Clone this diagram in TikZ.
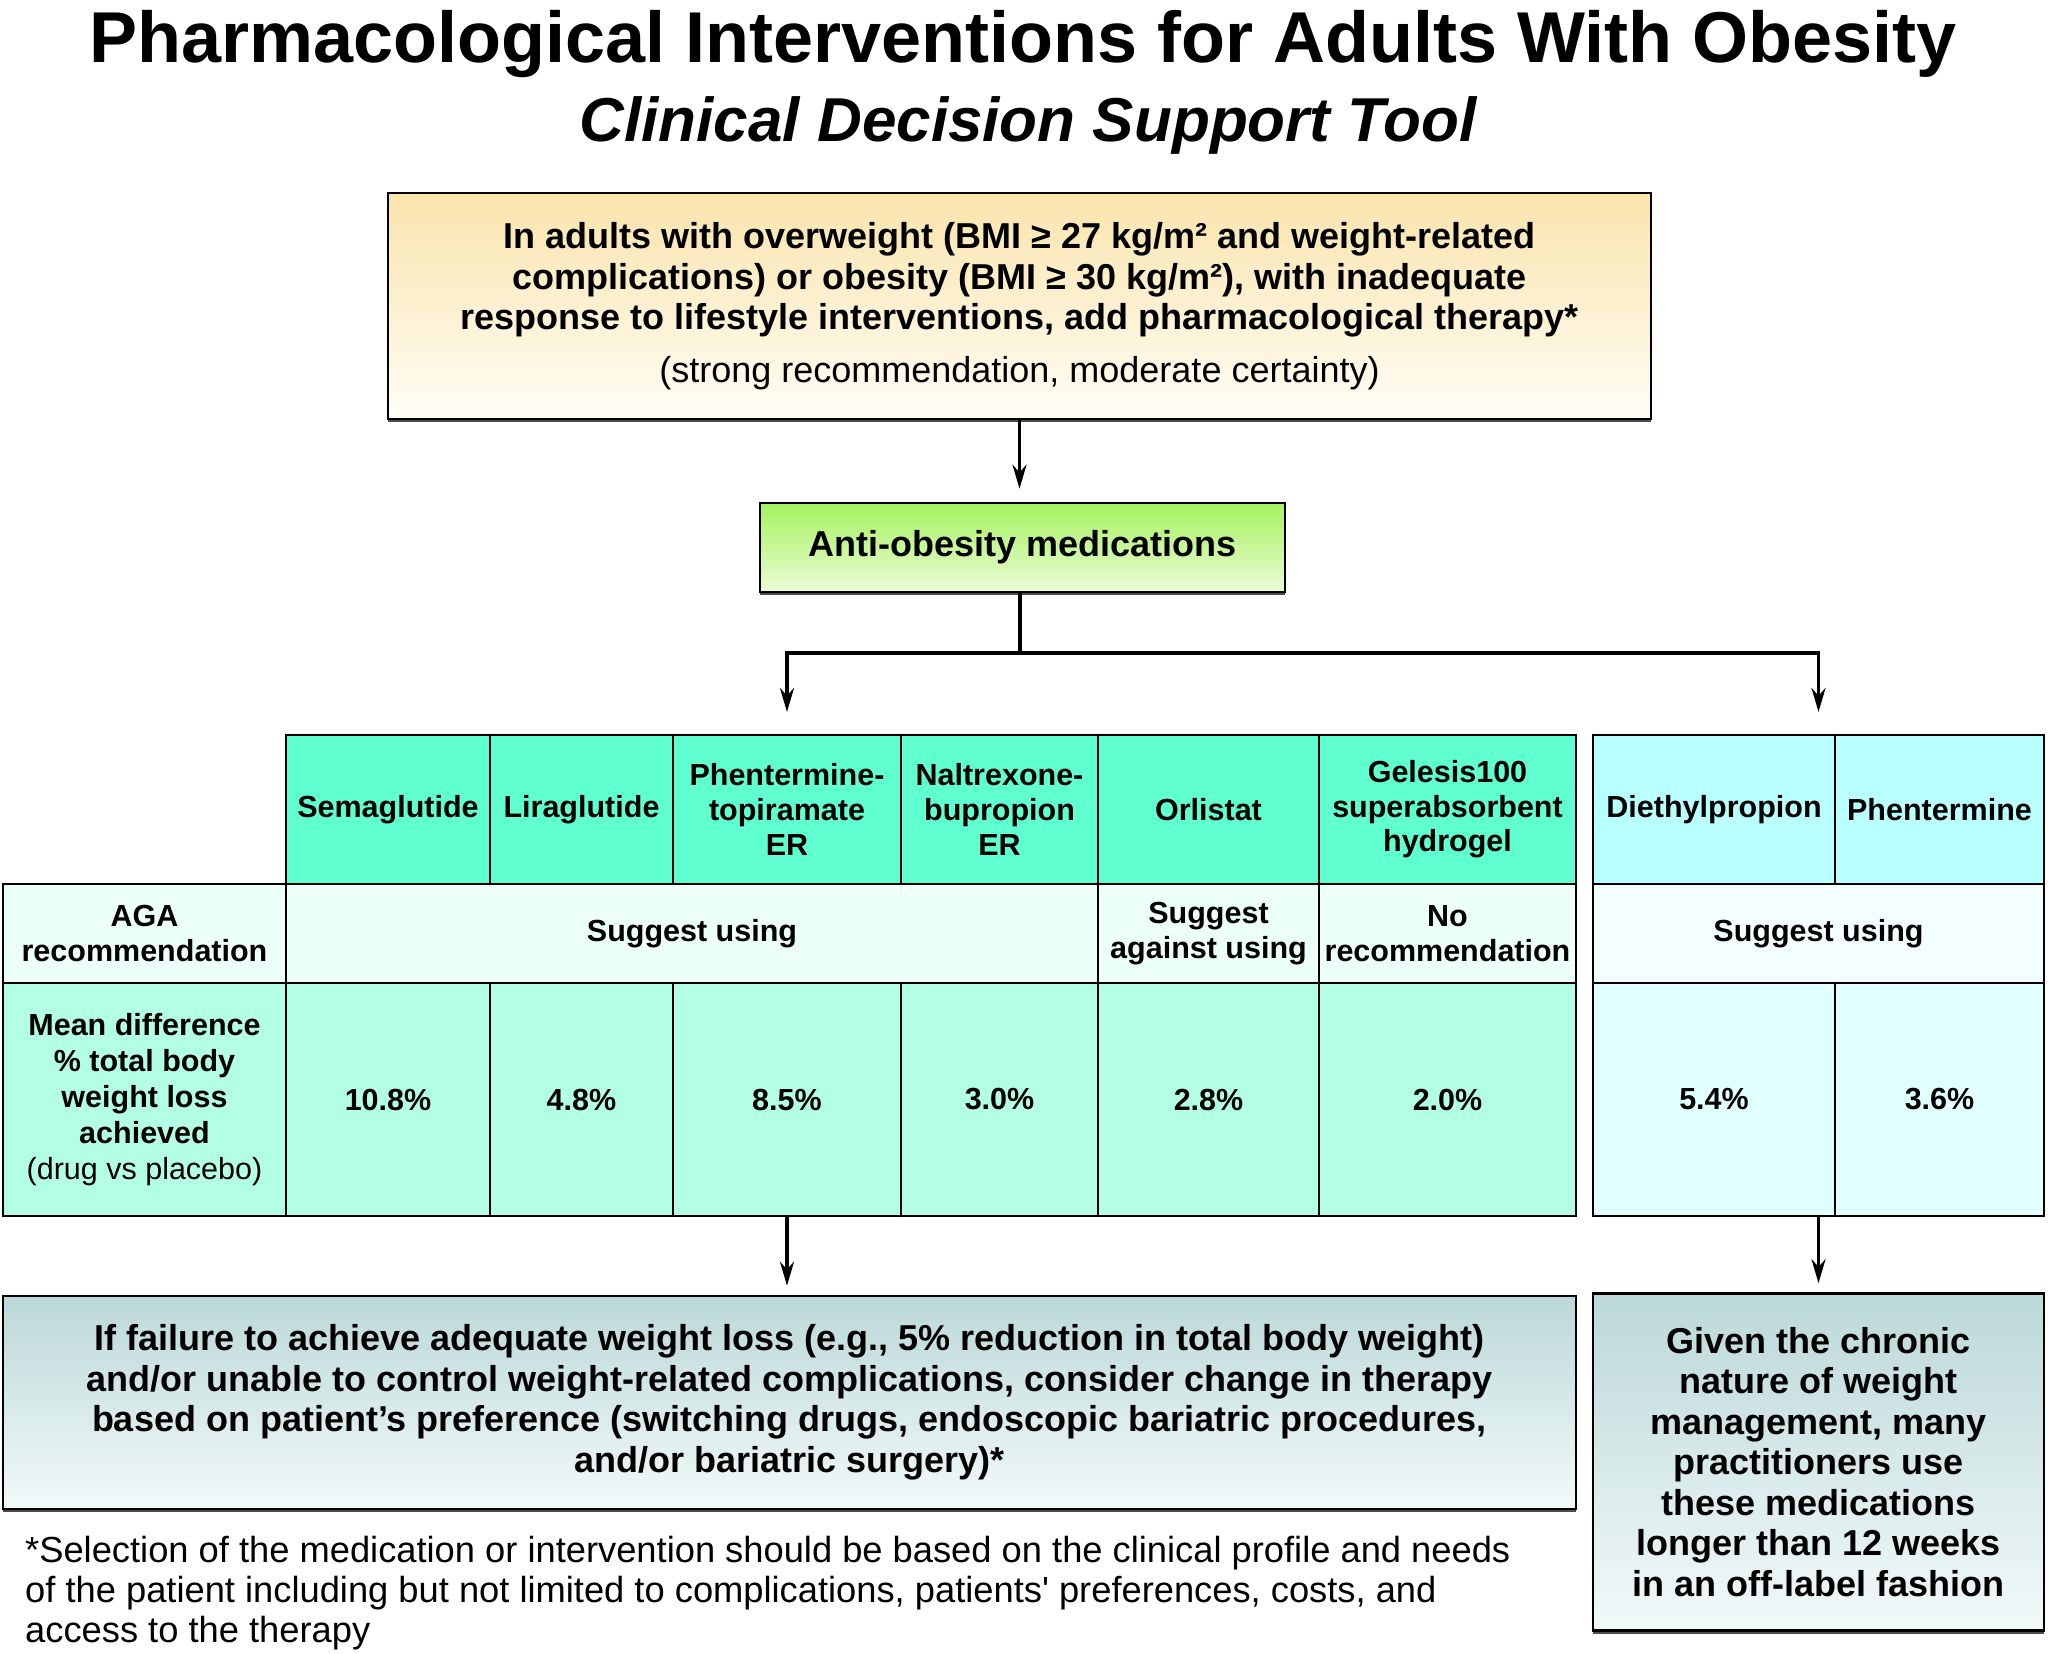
\documentclass[tikz,border=0pt]{standalone}
\usepackage{fontspec}
\setmainfont{Liberation Sans}
\usetikzlibrary{arrows.meta,shadows}

\definecolor{hdrmint}{RGB}{95,255,208}
\definecolor{recmint}{RGB}{236,255,249}
\definecolor{datmint}{RGB}{178,255,230}
\definecolor{hdrcyan}{RGB}{185,255,255}
\definecolor{reccyan}{RGB}{243,255,255}
\definecolor{datcyan}{RGB}{226,255,255}
\definecolor{topamber}{RGB}{250,228,172}
\definecolor{topwhite}{RGB}{255,253,246}
\definecolor{limetop}{RGB}{165,242,95}
\definecolor{limebot}{RGB}{236,252,214}
\definecolor{tealtop}{RGB}{188,216,216}
\definecolor{tealbot}{RGB}{242,249,249}

\newcommand{\titlesize}{\fontsize{72}{80}\selectfont}
\newcommand{\subtitlesize}{\fontsize{62}{70}\selectfont}
\newcommand{\boxsize}{\fontsize{36}{40.5}\selectfont}
\newcommand{\cellsize}{\fontsize{30.5}{34.6}\selectfont}
\newcommand{\notesize}{\fontsize{36.3}{40}\selectfont}

\begin{document}
\begin{tikzpicture}[x=1pt,y=-1pt,
    box/.style={draw=black, line width=2.6pt, inner sep=0pt, align=center, font=\boxsize\bfseries,
      drop shadow={shadow xshift=0pt, shadow yshift=-3pt, fill=black!70, opacity=1}},
    cell/.style={draw=black, line width=2.4pt, inner sep=0pt, outer sep=0pt, align=center, font=\cellsize\bfseries},
    hdr/.style={cell, minimum height=149, fill=hdrmint},
    rec/.style={cell, minimum height=99, fill=recmint},
    dat/.style={cell, minimum height=233, fill=datmint},
    arr/.style={-{Stealth[length=24pt,width=14pt]}, line width=3.6pt},
    link/.style={line width=3.6pt}]
    \useasboundingbox (0,0) rectangle (2048,1654);

    \node[font=\titlesize\bfseries, anchor=base] (title) at (1023,63) {Pharmacological Interventions for Adults With Obesity};
    \node[font=\subtitlesize\bfseries\itshape, anchor=base] (subtitle) at (1028,141) {Clinical Decision Support Tool};

    \node[box, top color=topamber, bottom color=topwhite, minimum width=1263, minimum height=226] (lifestyle) at (1019.5,306)
      {In adults with overweight (BMI ≥ 27 kg/m² and weight-related\\
       complications) or obesity (BMI ≥ 30 kg/m²), with inadequate\\
       response to lifestyle interventions, add pharmacological therapy*\\[12pt]
       \mdseries (strong recommendation, moderate certainty)};
    \node[box, top color=limetop, bottom color=limebot, minimum width=525, minimum height=89] (aom) at (1022.5,547.5) {Anti-obesity medications};
    \coordinate (split) at (1020,653);

    % header row
    \node[hdr, minimum width=204] (sema) at (388,809.5) {Semaglutide};
    \node[hdr, minimum width=183] (lira) at (581.5,809.5) {Liraglutide};
    \node[hdr, minimum width=228] (phen) at (787,809.5) {Phentermine-\\topiramate\\ER};
    \node[hdr, minimum width=197] (nalt) at (999.5,809.5) {Naltrexone-\\bupropion\\ER};
    \node[hdr, minimum width=221] (orli) at (1208.5,809.5) {Orlistat};
    \node[hdr, minimum width=257] (gele) at (1447.5,809.5) {Gelesis100\\superabsorbent\\hydrogel};
    \node[hdr, fill=hdrcyan, minimum width=242] (diet) at (1714,809.5) {Diethylpropion};
    \node[hdr, fill=hdrcyan, minimum width=209] (phtm) at (1939.5,809.5) {Phentermine};

    % recommendation row
    \node[rec, minimum width=283] (aga) at (144.5,933.5) {AGA\\recommendation};
    \node[rec, minimum width=812] (sug) at (692,933.5) {Suggest using};
    \node[rec, minimum width=221] (agst) at (1208.5,933.5) {Suggest\\against using};
    \node[rec, minimum width=257] (norec) at (1447.5,933.5) {No\\recommendation};
    \node[rec, fill=reccyan, minimum width=451] (rsug) at (1818.5,933.5) {Suggest using};

    % mean difference row
    \node[dat, minimum width=283, font=\fontsize{30.5}{36}\selectfont\bfseries] (mean) at (144.5,1099.5)
      {Mean difference\\\% total body\\weight loss\\achieved\\\mdseries (drug vs placebo)};
    \node[dat, minimum width=204] (d1) at (388,1099.5) {10.8\%};
    \node[dat, minimum width=183] (d2) at (581.5,1099.5) {4.8\%};
    \node[dat, minimum width=228] (d3) at (787,1099.5) {8.5\%};
    \node[dat, minimum width=197] (d4) at (999.5,1099.5) {3.0\%};
    \node[dat, minimum width=221] (d5) at (1208.5,1099.5) {2.8\%};
    \node[dat, minimum width=257] (d6) at (1447.5,1099.5) {2.0\%};
    \node[dat, fill=datcyan, minimum width=242] (d7) at (1714,1099.5) {5.4\%};
    \node[dat, fill=datcyan, minimum width=209] (d8) at (1939.5,1099.5) {3.6\%};

    \node[box, top color=tealtop, bottom color=tealbot, minimum width=1573, minimum height=213] (change) at (789.5,1402.5)
      {If failure to achieve adequate weight loss (e.g., 5\% reduction in total body weight)\\
       and/or unable to control weight-related complications, consider change in therapy\\
       based on patient’s preference (switching drugs, endoscopic bariatric procedures,\\
       and/or bariatric surgery)*};
    \node[box, top color=tealtop, bottom color=tealbot, minimum width=451, minimum height=337] (chronic) at (1818.5,1462)
      {Given the chronic\\nature of weight\\management, many\\practitioners use\\these medications\\longer than 12 weeks\\in an off-label fashion};

    \node[font=\notesize, align=left, anchor=north west, inner sep=0pt] (note) at (25,1536)
      {*Selection of the medication or intervention should be based on the clinical profile and needs\\
       of the patient including but not limited to complications, patients\textquotesingle\ preferences, costs, and\\
       access to the therapy};

    \draw[arr, shorten >=13pt] (lifestyle.south) -- (lifestyle.south |- aom.north);
    \draw[link] (aom.south -| split) -- (split);
    \draw[arr, shorten >=23pt] (split) -| (phen.north);
    \draw[arr, shorten >=23pt] (split) -| (rsug |- diet.north);
    \draw[arr, shorten >=9pt] (d3.south) -- (d3.south |- change.north);
    \draw[arr, shorten >=9pt] (rsug |- d7.south) -- (rsug |- chronic.north);
  \end{tikzpicture}
\end{document}
